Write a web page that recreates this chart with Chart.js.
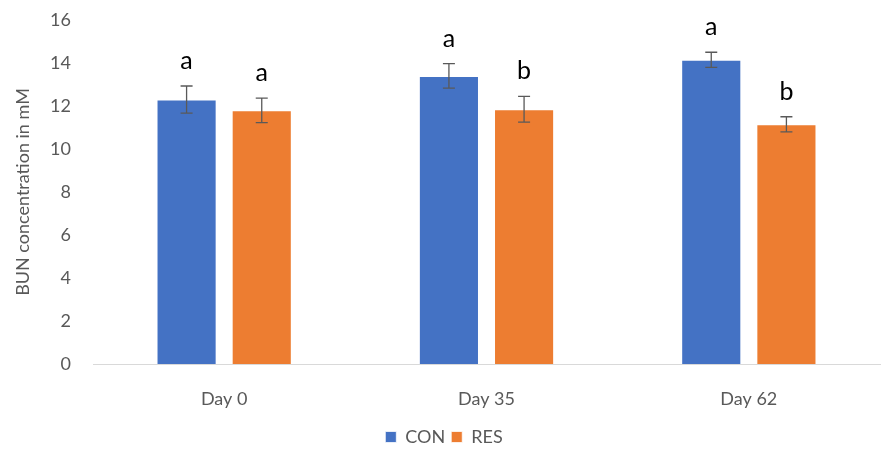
<!DOCTYPE html>
<html>
<head>
<meta charset="utf-8">
<script src="https://cdn.jsdelivr.net/npm/chart.js@4"></script>
<style>
  html, body { margin: 0; padding: 0; background: #fff; }
  #wrap { width: 882px; height: 456px; }
</style>
</head>
<body>
<div id="wrap"><canvas id="chart"></canvas></div>
<script>
const days = ['Day 0', 'Day 35', 'Day 62'];
const conMeans = [12.3, 13.4, 14.15];
const resMeans = [11.8, 11.85, 11.15];
const conErr = [0.63, 0.57, 0.35];
const resErr = [0.57, 0.6, 0.35];
const conLetters = ['a', 'a', 'a'];
const resLetters = ['a', 'b', 'b'];

const FONT = 'Lato, "Open Sans", sans-serif';

// error bars + significance letters, drawn through the scales
const errorBarPlugin = {
  id: 'errorBars',
  afterDatasetsDraw(chart) {
    const ctx = chart.ctx;
    const y = chart.scales.y;
    const errs = [conErr, resErr];
    const letters = [conLetters, resLetters];
    chart.data.datasets.forEach((ds, di) => {
      const meta = chart.getDatasetMeta(di);
      meta.data.forEach((bar, i) => {
        const v = ds.data[i];
        const top = y.getPixelForValue(v + errs[di][i]);
        const bot = y.getPixelForValue(v - errs[di][i]);
        ctx.save();
        ctx.strokeStyle = '#595959';
        ctx.lineWidth = 1.3;
        ctx.beginPath();
        ctx.moveTo(bar.x, top); ctx.lineTo(bar.x, bot);
        ctx.moveTo(bar.x - 6, top); ctx.lineTo(bar.x + 6, top);
        ctx.moveTo(bar.x - 6, bot); ctx.lineTo(bar.x + 6, bot);
        ctx.stroke();
        ctx.fillStyle = '#000';
        ctx.font = '25px ' + FONT;
        ctx.textAlign = 'center';
        ctx.textBaseline = 'alphabetic';
        ctx.fillText(letters[di][i], bar.x, top - 17);
        ctx.restore();
      });
    });
  }
};

new Chart(document.getElementById('chart'), {
  type: 'bar',
  data: {
    labels: days,
    datasets: [
      {
        label: 'CON',
        data: conMeans,
        backgroundColor: '#4472C4',
        borderColor: '#ffffff',
        borderWidth: { top: 1, left: 1, right: 1, bottom: 0 },
        categoryPercentage: 0.573,
        barPercentage: 0.8
      },
      {
        label: 'RES',
        data: resMeans,
        backgroundColor: '#ED7D31',
        borderColor: '#ffffff',
        borderWidth: { top: 1, left: 1, right: 1, bottom: 0 },
        categoryPercentage: 0.573,
        barPercentage: 0.8
      }
    ]
  },
  options: {
    responsive: true,
    maintainAspectRatio: false,
    animation: false,
    layout: { padding: { top: 20, right: 2, bottom: 0, left: 8 } },
    plugins: {
      legend: {
        position: 'bottom',
        labels: {
          usePointStyle: true,
          pointStyle: 'rect',
          boxWidth: 11,
          boxHeight: 11,
          padding: 6,
          color: '#595959',
          font: { size: 18, family: FONT }
        }
      },
      tooltip: { enabled: false }
    },
    scales: {
      x: {
        grid: { display: false, drawTicks: false },
        border: { color: '#d9d9d9', width: 1 },
        ticks: {
          color: '#595959',
          padding: 24,
          font: { size: 18, family: FONT }
        },
        afterFit(scale) { scale.height = 58; }
      },
      y: {
        min: 0,
        max: 16,
        grid: { display: false, drawTicks: false },
        border: { display: false },
        ticks: {
          stepSize: 2,
          color: '#595959',
          padding: 22,
          font: { size: 18, family: FONT }
        },
        title: {
          display: true,
          text: 'BUN concentration in mM',
          color: '#595959',
          font: { size: 18, family: FONT }
        },
        afterFit(scale) {
          scale.width = 85;
          scale.paddingTop = 0;
          scale.paddingBottom = 0;
        }
      }
    }
  },
  plugins: [errorBarPlugin]
});
</script>
</body>
</html>
